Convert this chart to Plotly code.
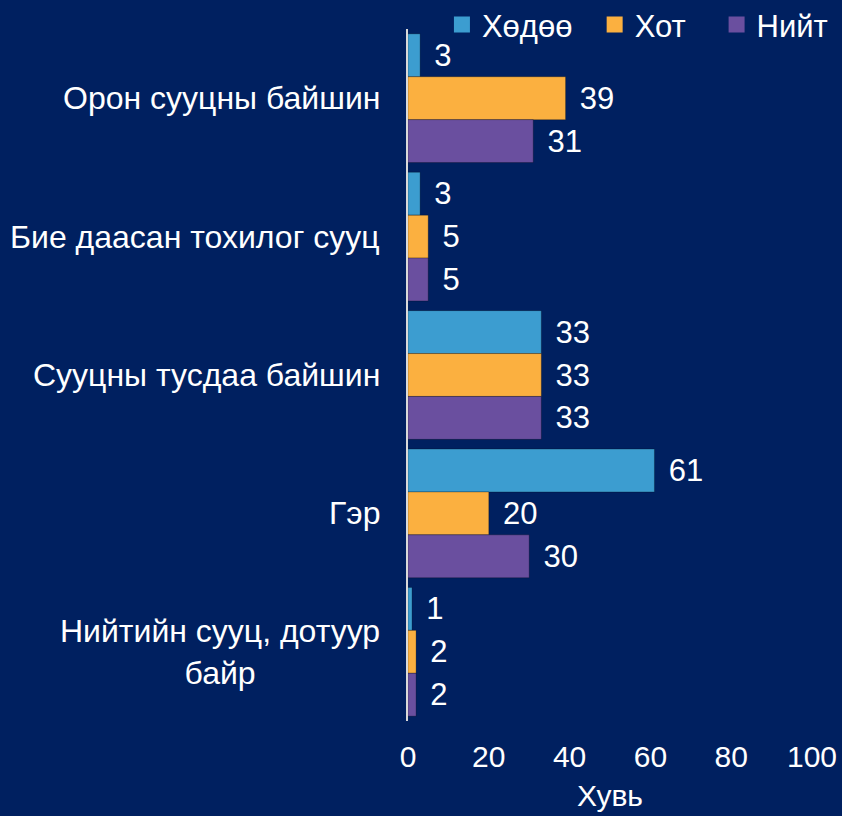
import plotly.graph_objects as go

categories = ["Орон сууцны байшин", "Бие даасан тохилог сууц", "Сууцны тусдаа байшин", "Гэр", "Нийтийн сууц, дотуур<br>байр"]
rural = [3, 3, 33, 61, 1]
urban = [39, 5, 33, 20, 2]
total = [31, 5, 33, 30, 2]
series_names = ["Хөдөө", "Хот", "Нийт"]
colors = ["#3C9DD0", "#FBB040", "#6A4F9F"]
x_ticks = [0, 20, 40, 60, 80, 100]

bg = "#002060"
font = "Liberation Sans, Arial, sans-serif"
legend_pad = [2, 3, 0]

fig = go.Figure()
for name, vals, col in zip(series_names, [rural, urban, total], colors):
    fig.add_trace(go.Bar(
        y=categories, x=vals, name=name, orientation="h", showlegend=False,
        marker=dict(color=col, line=dict(color="rgba(0,0,0,0.25)", width=1)),
        text=[f"\u00a0\u200a{v}" for v in vals], textposition="outside",
        textfont=dict(color="white", size=31, family=font),
        cliponaxis=False,
    ))
# legend entries with larger square swatches
for name, col, pad in zip(series_names, colors, legend_pad):
    fig.add_trace(go.Scatter(
        x=[None], y=[None], mode="markers", name=name + "\u00a0" * pad,
        marker=dict(symbol="square", size=16, color=col, line=dict(width=0)),
        showlegend=True,
    ))

for c in categories:
    fig.add_annotation(x=0, xref="paper", y=c, yref="y", text=c, showarrow=False,
                       xanchor="right", align="center", xshift=-26,
                       font=dict(color="white", size=32, family=font))

fig.update_layout(
    width=842, height=816,
    paper_bgcolor=bg, plot_bgcolor=bg,
    barmode="group", bargap=0.07, bargroupgap=0,
    margin=dict(l=408, r=30, t=29, b=95, autoexpand=False),
    font=dict(family=font, color="white", size=31),
    showlegend=True,
    legend=dict(orientation="h", x=0.084, xanchor="left", y=1.006, yanchor="middle",
                font=dict(size=31, color="white", family=font), bgcolor="rgba(0,0,0,0)",
                traceorder="normal", itemwidth=30),
    xaxis=dict(range=[0, 100], tickvals=x_ticks, showgrid=False, zeroline=False,
               showline=False, ticks="", ticklabelstandoff=15,
               tickfont=dict(size=30, color="white"),
               title=dict(text="Хувь", font=dict(size=30, color="white"), standoff=12)),
    yaxis=dict(autorange="reversed", showticklabels=False, showgrid=False, zeroline=False,
               showline=True, linecolor="#D9D9D9", linewidth=2, ticks=""),
)

fig.write_html("out.html", config={"displayModeBar": False},
               post_script="document.body.style.margin='0';document.body.style.background='#002060';")
